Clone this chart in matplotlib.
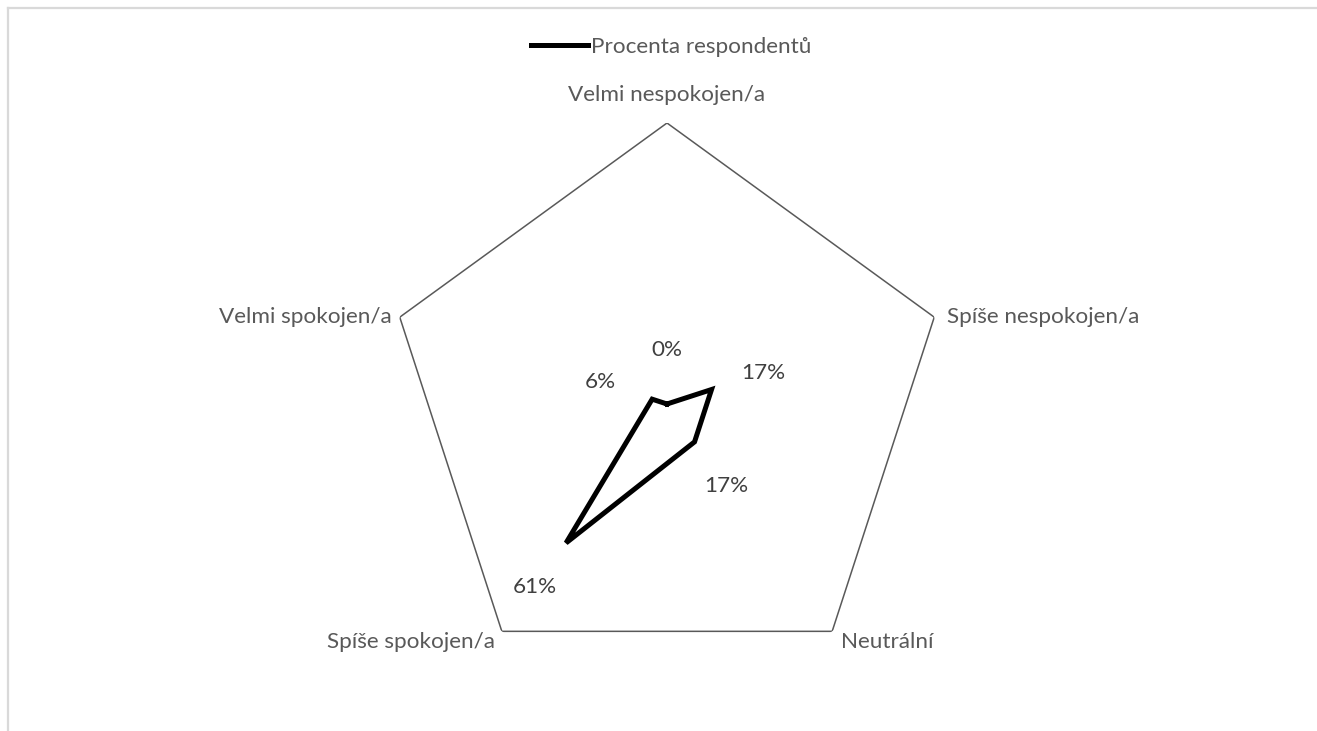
import numpy as np
import matplotlib
matplotlib.use("Agg")
import matplotlib.pyplot as plt
from matplotlib.lines import Line2D

plt.rcParams['font.family'] = ['Lato', 'DejaVu Sans']

categories = ["Velmi nespokojen/a", "Spíše nespokojen/a", "Neutrální",
              "Spíše spokojen/a", "Velmi spokojen/a"]
values = [0.0, 3 / 18, 3 / 18, 11 / 18, 1 / 18]
value_labels = ["0%", "17%", "17%", "61%", "6%"]
series_name = "Procenta respondentů"

TEXT = "#595959"
AXIS = "#595959"
FS = 16.2

W, H, DPI = 1317, 731, 100
fig = plt.figure(figsize=(W / DPI, H / DPI), dpi=DPI)

# chart frame (top and left edges)
fig.add_artist(Line2D([8 / W, 8 / W], [0, 1 - 8 / H], color="#d9d9d9", lw=1.6,
                      transform=fig.transFigure))
fig.add_artist(Line2D([8 / W, 1], [1 - 8 / H, 1 - 8 / H], color="#d9d9d9", lw=1.6,
                      transform=fig.transFigure))

cx, cy, R = 667, 404, 281
ax = fig.add_axes([(cx - R) / W, (H - cy - R) / H, 2 * R / W, 2 * R / H],
                  projection="polar")
ax.set_theta_offset(np.pi / 2)
ax.set_theta_direction(-1)
ax.set_ylim(0, 1)
ax.grid(False)
ax.set_xticks([])
ax.set_yticks([])
ax.spines["polar"].set_visible(False)
ax.patch.set_visible(False)

n = len(categories)
theta = np.arange(n) * 2 * np.pi / n
theta_c = np.append(theta, theta[0])

# outer pentagon
ax.plot(theta_c, np.ones(n + 1), color=AXIS, lw=1.1, solid_joinstyle="miter")

# data series
vals_c = np.append(values, values[0])
line, = ax.plot(theta_c, vals_c, color="black", lw=3.6, solid_joinstyle="miter",
                label=series_name)

# category labels
cat_offsets = [((0, 28), "center", "center"),
               ((13, 0), "left", "center"),
               ((9, -11), "left", "center"),
               ((-7, -11), "right", "center"),
               ((-8, 0), "right", "center")]
for t, name, (off, ha, va) in zip(theta, categories, cat_offsets):
    ax.annotate(name, xy=(t, 1.0), xytext=off, textcoords="offset pixels",
                ha=ha, va=va, fontsize=FS, color=TEXT, annotation_clip=False)

# value labels, pushed outward along each spoke
for t, v, lab in zip(theta, values, value_labels):
    d = 54
    dx, dy = d * np.sin(t), d * np.cos(t)
    ax.annotate(lab, xy=(t, v), xytext=(dx, dy), textcoords="offset pixels",
                ha="center", va="center", fontsize=FS, color="#404040",
                annotation_clip=False)

fig.legend(handles=[line], loc="center", bbox_to_anchor=(671 / W, 1 - 47 / H),
           frameon=False, fontsize=FS, handlelength=2.55, handletextpad=0.12,
           labelcolor=TEXT)

fig.savefig("out.png", dpi=DPI, facecolor="white")
